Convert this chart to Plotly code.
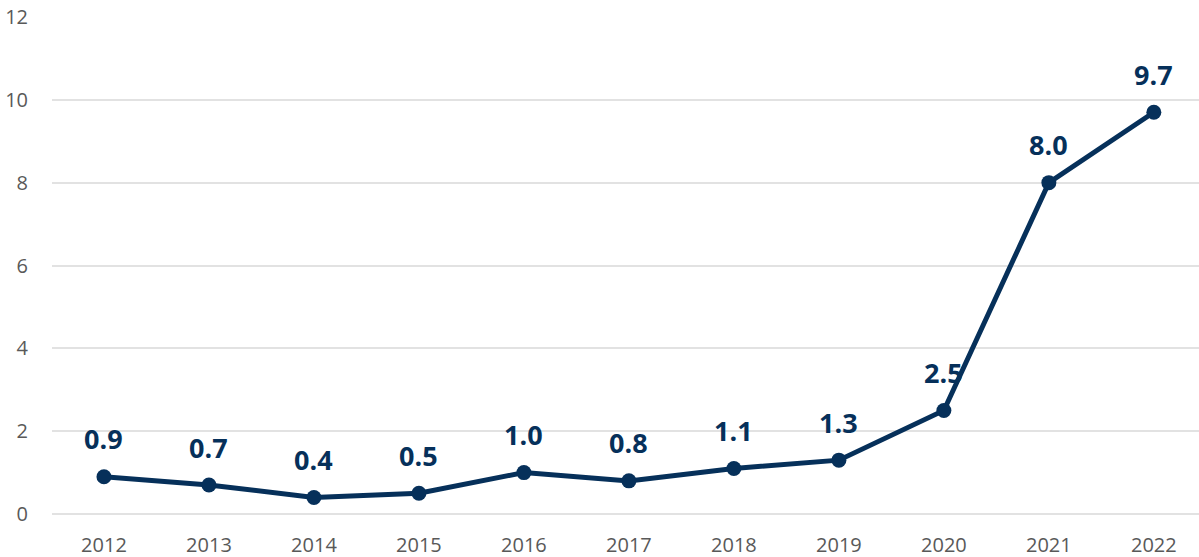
import plotly.graph_objects as go

# Annual values, 2012-2022
years = [2012, 2013, 2014, 2015, 2016, 2017, 2018, 2019, 2020, 2021, 2022]
values = [0.9, 0.7, 0.4, 0.5, 1.0, 0.8, 1.1, 1.3, 2.5, 8.0, 9.7]
y_ticks = [0, 2, 4, 6, 8, 10, 12]

navy = "#06305A"
tick_color = "#595959"

fig = go.Figure()
fig.add_trace(go.Scatter(
    x=years, y=values,
    mode="lines+markers",
    line=dict(color=navy, width=5),
    marker=dict(color=navy, size=15),
    hoverinfo="x+y",
    showlegend=False,
))

# Value labels placed above each point
for yr, v in zip(years, values):
    fig.add_annotation(
        x=yr, y=v, text=f"{v:.1f}", showarrow=False,
        yshift=38, font=dict(family="Open Sans", size=27, color=navy, weight="bold"),
    )

fig.update_layout(
    width=1199, height=557,
    margin=dict(l=52, r=0, t=17, b=43),
    plot_bgcolor="white", paper_bgcolor="white",
    font=dict(family="Open Sans", color=tick_color, size=20),
)
fig.update_xaxes(
    range=[2011.505, 2022.43],
    tickmode="array", tickvals=years, ticktext=[str(y) for y in years],
    showgrid=False, zeroline=False, showline=False,
    ticks="", ticklabelstandoff=17,
    tickfont=dict(size=20, color=tick_color),
)
fig.update_yaxes(
    range=[0, 12],
    tickmode="array", tickvals=y_ticks,
    showgrid=True, gridcolor="#E2E2E2", gridwidth=1.5,
    zeroline=True, zerolinecolor="#E2E2E2", zerolinewidth=1.5,
    showline=False, ticks="", ticklabelstandoff=23,
    tickfont=dict(size=20, color=tick_color),
)

fig.write_html("out.html")
